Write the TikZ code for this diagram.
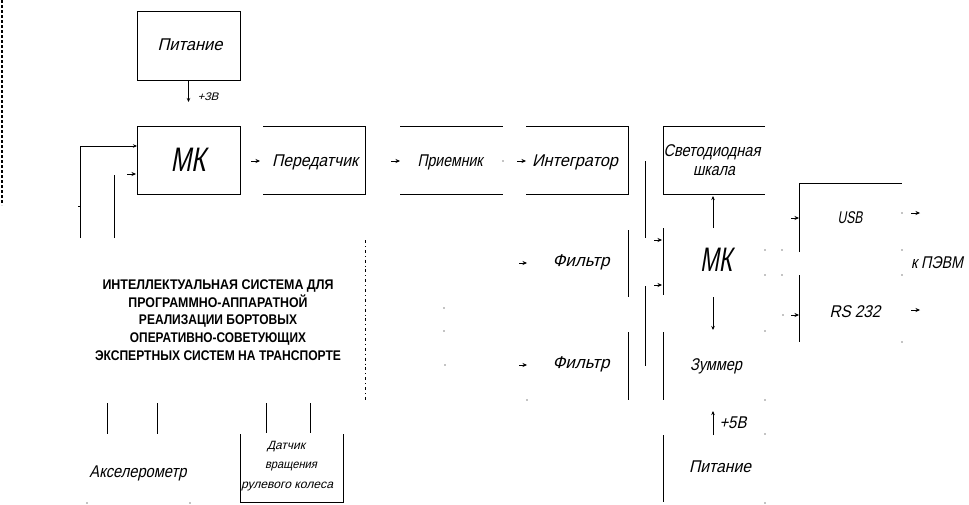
\documentclass[tikz,border=0pt]{standalone}
\usepackage{fontspec}
\setmainfont{Liberation Sans}
\newfontfamily\gost[FakeSlant=0.25]{Liberation Sans}
\newfontfamily\gostup{Liberation Sans}
\usetikzlibrary{arrows.meta}
\newcommand\fitw[2]{\resizebox{#1pt}{\height}{#2}}
\begin{document}
\begin{tikzpicture}[x=1pt,y=-1pt,line width=0.8pt,
  lbl/.style={inner sep=0, font=\gost\fontsize{17}{19}\selectfont},
  lblsm/.style={inner sep=0, font=\gost\fontsize{12}{14}\selectfont},
  lbltiny/.style={inner sep=0, font=\gost\fontsize{11}{12}\selectfont},
  lblbig/.style={inner sep=0, font=\gost\fontsize{34}{36}\selectfont},
  blk/.style={draw, inner sep=0, minimum width=103pt, minimum height=68pt},
  arw/.style={-{Stealth[length=4pt,width=3.5pt]}},
  tinyarw/.style={line width=0.6pt,-{Stealth[length=4.5pt,width=4pt]}},
  dotmk/.style={circle, fill, inner sep=0, minimum size=1.4pt}]
\useasboundingbox (0,0) rectangle (969,504);

% left border dashes
\draw[line width=1.6pt, dash pattern=on 3pt off 2pt] (2,0) -- (2,205);

% ---- left column: power and MK
\node[blk, minimum height=69pt] (pit1) at (188.5,45.5) {};
\node[lbl] (pit1t) at (190,45) {\fitw{65}{Питание}};
\node[blk] (mk1) at (188.5,160) {};
\node[lblbig] (mk1t) at (188,160) {\fitw{35}{МК}};
\coordinate (p3) at (188.5,102);
\draw[arw] (pit1.south) -- (p3);
\node[lbltiny] (v3) at (208,97) {\fitw{21}{+3В}};

\coordinate (a1) at (80,238);
\coordinate (in1) at (137,146);
\draw[arw] (a1) |- (in1);
\coordinate (a2) at (114,238);
\coordinate (a2t) at (114,175);
\draw (a2) -- (a2t);
\coordinate (in2s) at (127,174);
\coordinate (in2) at (136,174);
\draw[tinyarw] (in2s) -- (in2);
\draw (78,206) -- (81,206);

% ---- Передатчик
\coordinate (tx1) at (263,126);
\coordinate (tx2) at (365,194);
\draw (tx1) -- (tx1 -| tx2) -- (tx2) -- (tx2 -| tx1);
\node[lbl] (txt) at (315,162) {\fitw{86}{Передатчик}};
\coordinate (txa) at (251,161);
\coordinate (txb) at (260,161);
\draw[tinyarw] (txa) -- (txb);

% ---- Приемник
\coordinate (rx1) at (400,126);
\coordinate (rx2) at (503,194);
\draw (rx1) -- (rx1 -| rx2);
\draw (rx2 -| rx1) -- (rx2);
\node[lbl] (rxt) at (450,162) {\fitw{65}{Приемник}};
\coordinate (rxa) at (391,161);
\coordinate (rxb) at (400,161);
\draw[tinyarw] (rxa) -- (rxb);
\node[dotmk] (d1) at (503,161) {};

% ---- Интегратор
\coordinate (ig1) at (526,126);
\coordinate (ig2) at (628,194);
\draw (ig1) -- (ig1 -| ig2) -- (ig2) -- (ig2 -| ig1);
\node[lbl] (igt) at (575,162) {\fitw{86}{Интегратор}};
\coordinate (iga) at (517,161);
\coordinate (igb) at (526,161);
\draw[tinyarw] (iga) -- (igb);

% ---- Светодиодная шкала
\coordinate (led1) at (663,126);
\coordinate (led2) at (765,194);
\draw (led2 |- led1) -- (led1) -- (led1 |- led2) -- (led2);
\node[lbl] (ledt1) at (712,152) {\fitw{97}{Светодиодная}};
\node[lbl] (ledt2) at (714,171) {\fitw{42}{шкала}};

% ---- vertical connector fragments
\draw (645,161) -- (645,238);
\draw (645,286) -- (645,366);
\draw (628,230) -- (628,297);
\draw (628,332) -- (628,400);

% ---- Фильтры
\node[lbl] (f1) at (581,262) {\fitw{57}{Фильтр}};
\node[lbl] (f2) at (581,364) {\fitw{57}{Фильтр}};
\coordinate (f1a) at (519,263);
\coordinate (f1b) at (527,263);
\coordinate (f2a) at (519,365);
\coordinate (f2b) at (527,365);
\draw[tinyarw] (f1a) -- (f1b);
\draw[tinyarw] (f2a) -- (f2b);
\node[dotmk] at (444,308) {};
\node[dotmk] at (444,331) {};
\node[dotmk] at (445,365) {};
\node[dotmk] at (527,400) {};

% ---- МК (right)
\draw (663,228) -- (663,295);
\node[lblbig] (mk2t) at (716,260) {\fitw{32}{МК}};
\coordinate (m2a) at (654,240);
\coordinate (m2b) at (662,240);
\coordinate (m2c) at (654,285);
\coordinate (m2d) at (662,285);
\draw[tinyarw] (m2a) -- (m2b);
\draw[tinyarw] (m2c) -- (m2d);
\coordinate (mkTop) at (713,228);
\coordinate (ledB) at (713,196);
\draw[arw] (mkTop) -- (ledB);
\coordinate (mkBot) at (713,297);
\coordinate (zumT) at (713,330);
\draw[arw] (mkBot) -- (zumT);

% ---- Зуммер
\draw (663,332) -- (663,400);
\node[lbl] (zt) at (716,366) {\fitw{52}{Зуммер}};

% ---- Питание (right)
\draw (663,435) -- (663,502);
\node[lbl] (pit2t) at (720,467) {\fitw{62}{Питание}};
\coordinate (p5a) at (713,435);
\coordinate (p5b) at (713,411);
\draw[arw] (p5a) -- (p5b);
\node[lbl] (v5) at (733,423) {\fitw{27}{+5В}};

% ---- USB / RS 232
\draw (799,252) -- (799,183) -- (902,183);
\draw (799,275) -- (799,342);
\node[lbl] (usbt) at (850,218) {\fitw{25}{USB}};
\node[lbl] (rst) at (855,312) {\fitw{51}{RS 232}};
\node[lbl] (pc) at (937,263) {\fitw{52}{к ПЭВМ}};
\coordinate (u1) at (791,218);
\coordinate (u2) at (799,218);
\coordinate (r1) at (791,315);
\coordinate (r2) at (799,315);
\draw[tinyarw] (u1) -- (u2);
\draw[tinyarw] (r1) -- (r2);
\coordinate (uo1) at (911,213);
\coordinate (uo2) at (920,213);
\coordinate (ro1) at (911,310);
\coordinate (ro2) at (920,310);
\draw[tinyarw] (uo1) -- (uo2);
\draw[tinyarw] (ro1) -- (ro2);
\foreach \p in {(765,250),(782,250),(765,275),(782,275),(902,250),(902,275),(902,213),(783,315),(765,331),(765,400),(765,434),(765,503),(902,342)}
  \node[dotmk] at \p {};

% ---- system block
\draw[line width=0.8pt, dash pattern=on 3pt off 3pt on 0.8pt off 3pt] (365,240) -- (365,400);
\node[align=center, inner sep=0, font=\gostup\bfseries\fontsize{14}{17.75}\selectfont] (sys) at (218,320)
  {\fitw{231}{ИНТЕЛЛЕКТУАЛЬНАЯ СИСТЕМА ДЛЯ}\\
   \fitw{179}{ПРОГРАММНО-АППАРАТНОЙ}\\
   \fitw{158}{РЕАЛИЗАЦИИ БОРТОВЫХ}\\
   \fitw{176}{ОПЕРАТИВНО-СОВЕТУЮЩИХ}\\
   \fitw{246}{ЭКСПЕРТНЫХ СИСТЕМ НА ТРАНСПОРТЕ}};

% ---- sensors
\draw (107,403) -- (107,434);
\draw (157,403) -- (157,434);
\draw (266,403) -- (266,433);
\draw (310,403) -- (310,433);
\node[lbl] (acc) at (138,473) {\fitw{97}{Акселерометр}};
\node[dotmk] at (87,503) {};
\node[dotmk] at (190,503) {};
\coordinate (ds1) at (240,434);
\coordinate (ds2) at (343,502);
\draw (ds1) -- (ds1 |- ds2) -- (ds2) -- (ds2 |- ds1);
\node[lblsm] (dt1) at (286,447) {\fitw{38}{Датчик}};
\node[lblsm] (dt2) at (291,467) {\fitw{52}{вращения}};
\node[lblsm] (dt3) at (287,487) {\fitw{92}{рулевого колеса}};
\end{tikzpicture}
\end{document}
